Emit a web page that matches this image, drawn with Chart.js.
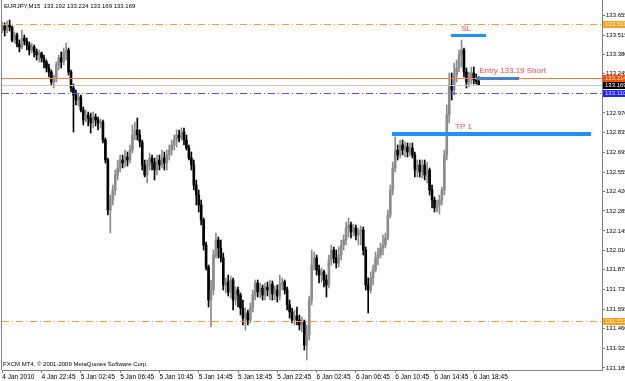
<!DOCTYPE html>
<html><head><meta charset="utf-8">
<script src="https://cdn.jsdelivr.net/npm/chart.js@4.4.1/dist/chart.umd.min.js"></script>
<style>html,body{margin:0;padding:0;background:#fff;overflow:hidden}canvas{display:block}</style>
</head><body>
<canvas id="c" width="625" height="381"></canvas>
<script>
// ---- data: EURJPY M15 candles (bar 0 = 4 Jan 2010 18:45) ----
const opens = [
133.551,133.579,133.551,133.586,133.572,133.481,133.516,133.453,133.432,133.495,
133.474,133.446,133.411,133.432,133.397,133.376,133.390,133.355,133.327,133.285,
133.257,133.187,133.215,133.306,133.355,133.327,133.397,133.411,133.257,133.145,
133.096,133.061,133.082,132.991,132.921,132.956,132.935,132.900,132.942,132.921,
132.900,132.907,132.781,132.641,132.291,132.361,132.431,132.536,132.585,132.641,
132.620,132.662,132.641,132.711,132.816,132.851,132.816,132.767,132.606,132.536,
132.606,132.655,132.627,132.571,132.641,132.606,132.655,132.620,132.676,132.711,
132.746,132.781,132.816,132.795,132.837,132.781,132.725,132.655,132.606,132.466,
132.396,132.326,132.221,132.046,131.892,131.661,131.731,131.976,132.081,132.025,
131.955,131.766,131.787,131.717,131.801,131.661,131.731,131.696,131.605,131.535,
131.570,131.521,131.605,131.696,131.780,131.717,131.745,131.696,131.752,131.731,
131.773,131.703,131.731,131.689,131.773,131.787,131.731,131.626,131.577,131.521,
131.549,131.521,131.486,131.507,131.346,131.416,131.661,131.906,131.955,131.871,
131.836,131.857,131.801,131.766,131.941,132.011,131.955,131.920,131.976,132.046,
132.081,132.165,132.186,132.137,132.165,132.116,132.137,132.151,132.011,131.766,
131.731,131.815,131.871,131.955,131.976,132.025,132.046,132.095,132.256,132.431,
132.585,132.711,132.676,132.746,132.711,132.732,132.697,132.725,132.676,132.571,
132.606,132.557,132.606,132.536,132.571,132.431,132.361,132.305,132.326,132.361,
132.431,132.676,132.956,133.166,133.131,133.236,133.285,133.376,133.411,133.257,
133.187,133.215,133.250,133.201,133.192];
const highs = [
133.607,133.600,133.614,133.621,133.579,133.537,133.530,133.481,133.551,133.516,
133.495,133.467,133.460,133.446,133.418,133.411,133.397,133.376,133.341,133.313,
133.271,133.236,133.327,133.376,133.397,133.425,133.460,133.425,133.271,133.173,
133.131,133.110,133.096,133.012,132.991,132.977,132.970,132.977,132.963,132.942,
132.928,132.921,132.795,132.655,132.396,132.466,132.571,132.641,132.676,132.676,
132.711,132.697,132.746,132.886,132.907,132.935,132.851,132.781,132.641,132.641,
132.690,132.676,132.655,132.676,132.676,132.711,132.697,132.711,132.746,132.781,
132.816,132.851,132.851,132.865,132.865,132.816,132.746,132.697,132.641,132.501,
132.431,132.361,132.235,132.067,131.906,131.801,132.011,132.130,132.102,132.081,
131.990,131.815,131.836,131.829,131.815,131.752,131.752,131.710,131.661,131.605,
131.591,131.640,131.731,131.801,131.801,131.780,131.766,131.780,131.787,131.801,
131.794,131.759,131.766,131.836,131.815,131.801,131.752,131.661,131.605,131.591,
131.612,131.556,131.542,131.521,131.486,131.689,132.011,131.997,131.976,131.906,
131.885,131.871,131.836,131.976,132.046,132.032,132.011,132.032,132.081,132.116,
132.207,132.235,132.207,132.193,132.186,132.165,132.179,132.172,132.032,131.815,
131.857,131.906,131.997,132.025,132.060,132.116,132.130,132.291,132.466,132.627,
132.802,132.746,132.781,132.781,132.767,132.760,132.760,132.760,132.697,132.641,
132.641,132.641,132.641,132.627,132.585,132.466,132.382,132.361,132.396,132.452,
132.711,133.026,133.250,133.250,133.320,133.341,133.411,133.481,133.425,133.285,
133.257,133.292,133.292,133.243,133.224];
const lows = [
133.530,133.509,133.530,133.544,133.467,133.460,133.432,133.397,133.418,133.446,
133.411,133.376,133.390,133.362,133.341,133.327,133.327,133.285,133.257,133.222,
133.166,133.145,133.187,133.271,133.285,133.306,133.341,133.236,133.117,132.837,
133.026,133.019,132.977,132.886,132.907,132.879,132.830,132.865,132.879,132.851,
132.865,132.760,132.620,132.256,132.130,132.326,132.396,132.501,132.557,132.585,
132.592,132.599,132.620,132.690,132.781,132.781,132.732,132.571,132.522,132.480,
132.571,132.571,132.501,132.536,132.571,132.585,132.571,132.571,132.641,132.676,
132.711,132.732,132.767,132.781,132.746,132.711,132.641,132.571,132.431,132.326,
132.277,132.186,132.011,131.871,131.612,131.472,131.696,131.955,131.955,131.927,
131.731,131.710,131.689,131.675,131.591,131.626,131.612,131.556,131.486,131.451,
131.486,131.500,131.577,131.661,131.682,131.675,131.661,131.661,131.689,131.661,
131.661,131.661,131.647,131.661,131.731,131.703,131.591,131.535,131.500,131.486,
131.486,131.451,131.437,131.311,131.241,131.381,131.626,131.871,131.836,131.780,
131.787,131.752,131.682,131.745,131.906,131.920,131.885,131.892,131.941,132.011,
132.046,132.102,132.095,132.109,132.081,132.046,132.046,131.976,131.731,131.570,
131.710,131.766,131.857,131.906,131.955,131.976,132.025,132.081,132.235,132.396,
132.557,132.641,132.655,132.676,132.662,132.662,132.669,132.655,132.522,132.522,
132.522,132.515,132.501,132.480,132.396,132.305,132.277,132.277,132.263,132.326,
132.396,132.641,132.900,133.061,133.096,133.187,133.257,133.292,133.222,133.145,
133.152,133.173,133.173,133.173,133.169];
const closes = [
133.579,133.551,133.586,133.572,133.481,133.516,133.453,133.432,133.495,133.474,
133.446,133.411,133.432,133.397,133.376,133.390,133.355,133.327,133.285,133.257,
133.187,133.215,133.306,133.355,133.327,133.397,133.411,133.257,133.145,133.096,
133.061,133.082,132.991,132.921,132.956,132.935,132.900,132.942,132.921,132.900,
132.907,132.781,132.641,132.291,132.361,132.431,132.536,132.585,132.641,132.620,
132.662,132.641,132.711,132.816,132.851,132.816,132.767,132.606,132.536,132.606,
132.655,132.627,132.571,132.641,132.606,132.655,132.620,132.676,132.711,132.746,
132.781,132.816,132.795,132.837,132.781,132.725,132.655,132.606,132.466,132.396,
132.326,132.221,132.046,131.892,131.661,131.731,131.976,132.081,132.025,131.955,
131.766,131.787,131.717,131.801,131.661,131.731,131.696,131.605,131.535,131.570,
131.521,131.605,131.696,131.780,131.717,131.745,131.696,131.752,131.731,131.773,
131.703,131.731,131.689,131.773,131.787,131.731,131.626,131.577,131.521,131.549,
131.521,131.486,131.507,131.346,131.416,131.661,131.906,131.955,131.871,131.836,
131.857,131.801,131.766,131.941,132.011,131.955,131.920,131.976,132.046,132.081,
132.165,132.186,132.137,132.165,132.116,132.137,132.151,132.011,131.766,131.731,
131.815,131.871,131.955,131.976,132.025,132.046,132.095,132.256,132.431,132.585,
132.711,132.676,132.746,132.711,132.732,132.697,132.725,132.676,132.571,132.606,
132.557,132.606,132.536,132.571,132.431,132.361,132.305,132.326,132.361,132.431,
132.676,132.956,133.166,133.131,133.236,133.285,133.376,133.411,133.257,133.187,
133.215,133.250,133.201,133.192,133.169];

const xTickLabels = ['4 Jan 2010','4 Jan 22:45','5 Jan 02:45','5 Jan 06:45','5 Jan 10:45','5 Jan 14:45','5 Jan 18:45','5 Jan 22:45','6 Jan 02:45','6 Jan 06:45','6 Jan 10:45','6 Jan 14:45','6 Jan 18:45'];
const barsPerTick = 16;
const yTickValues = [131.185,131.325,131.460,131.595,131.735,131.875,132.010,132.145,132.285,132.420,132.555,132.695,132.835,132.970,133.105,133.245,133.380,133.515,133.655];

const headerText = 'EURJPY,M15  133.192 133.224 133.169 133.169';
const footerText = 'FXCM MT4, \u00A9 2001-2009 MetaQuotes Software Corp.';

// horizontal levels
const levelPrices = [133.591, 133.214, 133.169, 133.110, 131.512];
// trade segments
const segPrices = [133.512, 133.211, 132.823];
const segFrom   = [182.8, 192.8, 158.8];
const segTo     = [197.1, 210.5, 239.8];
// text objects
const noteTexts  = ['SL', 'Entry 133.19 Short', 'TP 1'];
const noteBars   = [186.9, 194.2, 184.4];
const notePrices = [133.558, 133.266, 132.872];

// ---- styles ----
const BULL = '#8c8c8c', BEAR = '#000000';
const levelColors = ['#ff9a33','#ff7a4a','#c8c8c8','#4f4fff','#ff9a33'];
const levelDash = [[7,3,1,3],[],[],[7,3,1,3],[7,3,1,3]];
const levelBoxBg = ['#ffa020','#ff4d00','#000000','#2020ff','#ffa020'];
const levelBoxFg = ['#fff4d8','#ffe8d8','#ffffff','#e8e8ff','#fff4d8'];
const segColors = ['#1e90ff','#4a80c4','#1e90ff'];
const segWidths = [3,3,4];
const noteColor = '#ff4b4b';
const FONT = '"Liberation Sans", Arial, sans-serif';

const bodyData = opens.map((o,i)=>({x:i, y:[o, closes[i]]}));
const wickData = highs.map((h,i)=>({x:i, y:[lows[i], h]}));
const colors = opens.map((o,i)=> closes[i] >= o ? BULL : BEAR);

const overlay = {
  id:'overlay',
  afterDatasetsDraw(chart){
    const {ctx, chartArea:a, scales:{x,y}} = chart;
    ctx.save();
    ctx.beginPath(); ctx.rect(a.left, a.top, a.right-a.left, a.bottom-a.top); ctx.clip();
    levelPrices.forEach((p,k)=>{
      const py = Math.round(y.getPixelForValue(p)) + 0.5;
      ctx.strokeStyle = levelColors[k]; ctx.lineWidth = 1; ctx.setLineDash(levelDash[k]);
      ctx.beginPath(); ctx.moveTo(a.left, py); ctx.lineTo(a.right, py); ctx.stroke();
    });
    ctx.setLineDash([]);
    segPrices.forEach((p,k)=>{
      const py = y.getPixelForValue(p);
      ctx.fillStyle = segColors[k];
      const x0 = Math.round(x.getPixelForValue(segFrom[k])), x1 = Math.round(x.getPixelForValue(segTo[k]));
      const w = segWidths[k];
      ctx.fillRect(x0, Math.round(py - w/2), x1-x0, w);
    });
    ctx.fillStyle = noteColor; ctx.font = '8px ' + FONT; ctx.textAlign = 'left'; ctx.textBaseline = 'middle';
    noteTexts.forEach((t,k)=>{
      ctx.fillText(t, x.getPixelForValue(noteBars[k]), y.getPixelForValue(notePrices[k]));
    });
    ctx.restore();
  },
  afterDraw(chart){
    const {ctx, chartArea:a, scales:{y}} = chart;
    ctx.save();
    ctx.fillStyle = '#808080';
    ctx.fillRect(a.left-1, a.top, 1, a.bottom-a.top);
    ctx.font = '6px ' + FONT; ctx.textBaseline = 'middle'; ctx.textAlign = 'left';
    levelPrices.forEach((p,k)=>{
      const py = Math.round(y.getPixelForValue(p));
      ctx.fillStyle = levelBoxBg[k];
      ctx.fillRect(a.right+1, py-3, chart.width-a.right, 7);
      ctx.fillStyle = levelBoxFg[k];
      ctx.fillText(p.toFixed(3), a.right+3, py+0.5);
    });
    ctx.fillStyle = '#000';
    ctx.font = '6px ' + FONT;
    ctx.fillText(headerText, a.left+2, a.top+6.5);
    ctx.fillText(footerText, a.left+1, a.bottom-6);
    ctx.restore();
  }
};

new Chart(document.getElementById('c'), {
  type:'bar',
  data:{datasets:[
    {data: bodyData, backgroundColor: colors, barThickness:2, grouped:false, order:0, minBarLength:1},
    {data: wickData, backgroundColor: colors, barThickness:1, grouped:false, order:1}
  ]},
  options:{
    animation:false, responsive:false, devicePixelRatio:1,
    layout:{padding:{left:2, top:0, right:0, bottom:0}},
    plugins:{legend:{display:false}, tooltip:{enabled:false}},
    scales:{
      x:{type:'linear', min:-0.1, max:244.2, offset:false,
        afterBuildTicks: s => { s.ticks = xTickLabels.map((_,k)=>({value:k*barsPerTick})); },
        afterFit: s => { s.height = 11; s.paddingLeft = 0; s.paddingRight = 0; },
        grid:{drawOnChartArea:false, drawTicks:true, tickLength:3, color:'#808080', offset:false},
        border:{display:true, color:'#808080'},
        ticks:{autoSkip:false, maxRotation:0, minRotation:0, align:'start', padding:0,
          font:{family:FONT, size:6.5}, color:'#000',
          callback: v => xTickLabels[Math.round(v/barsPerTick)]}
      },
      y:{type:'linear', position:'right', min:131.171, max:133.761,
        afterBuildTicks: s => { s.ticks = yTickValues.map(v=>({value:v})); },
        afterFit: s => { s.width = 23; s.paddingTop = 0; s.paddingBottom = 0; },
        grid:{drawOnChartArea:false, drawTicks:true, tickLength:3, color:'#808080'},
        border:{display:true, color:'#808080'},
        ticks:{padding:1, font:{family:FONT, size:6}, color:'#000', callback: v => Number(v).toFixed(3)}
      }
    }
  },
  plugins:[overlay]
});
</script>
</body></html>
